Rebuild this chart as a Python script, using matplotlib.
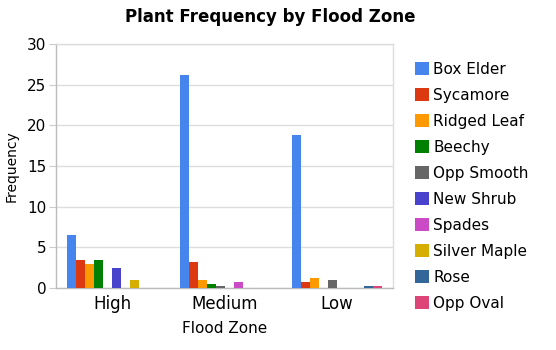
import numpy as np
import matplotlib.pyplot as plt
from matplotlib.patches import Patch

# Data
zones = ['High', 'Medium', 'Low']
species = ['Box Elder', 'Sycamore', 'Ridged Leaf', 'Beechy', 'Opp Smooth',
           'New Shrub', 'Spades', 'Silver Maple', 'Rose', 'Opp Oval']
box_elder = [6.5, 26.2, 18.8]
sycamore = [3.5, 3.2, 0.7]
ridged_leaf = [3.0, 1.0, 1.2]
beechy = [3.5, 0.5, 0.0]
opp_smooth = [0.0, 0.2, 1.0]
new_shrub = [2.5, 0.0, 0.0]
spades = [0.0, 0.7, 0.0]
silver_maple = [1.0, 0.0, 0.0]
rose = [0.0, 0.0, 0.2]
opp_oval = [0.0, 0.0, 0.2]
series = [box_elder, sycamore, ridged_leaf, beechy, opp_smooth,
          new_shrub, spades, silver_maple, rose, opp_oval]
colors = ['#4684EE', '#DC3912', '#FF9900', '#008000', '#666666',
          '#4942CC', '#CB4AC5', '#D6AE00', '#336699', '#DD4477']

fig = plt.figure(figsize=(5.56, 3.5), dpi=100)
ax = fig.add_axes([0.1007, 0.177, 0.6065, 0.697])

x = np.arange(len(zones))
w = 0.08
n = len(series)
for i, (vals, c) in enumerate(zip(series, colors)):
    ax.bar(x + (i - (n - 1) / 2) * w, vals, width=w, color=c, zorder=3)

ax.set_xlim(-0.5, 2.5)
ax.set_ylim(0, 30)
ax.set_yticks(range(0, 31, 5))
ax.set_xticks(x)
ax.set_xticklabels(zones)
ax.grid(axis='y', color='#dddddd', linewidth=1, zorder=0)
for s in ax.spines.values():
    s.set_color('#dddddd')
    s.set_linewidth(1)
ax.spines['left'].set_color('#bbbbbb')
ax.spines['bottom'].set_color('#bbbbbb')
ax.tick_params(axis='y', length=5, color='#cccccc', labelsize=11, pad=2)
ax.tick_params(axis='x', length=0, labelsize=12, pad=5)
ax.set_xlabel('Flood Zone', fontsize=11, labelpad=6)
ax.set_ylabel('Frequency', fontsize=10, labelpad=6)

fig.text(0.486, 0.95, 'Plant Frequency by Flood Zone', ha='center', va='center',
         fontsize=12, fontweight='bold')

handles = [Patch(facecolor=c, label=s) for s, c in zip(species, colors)]
fig.legend(handles=handles, loc='upper left', bbox_to_anchor=(0.736, 0.84),
           frameon=False, fontsize=11, handlelength=0.92, handleheight=0.92,
           handletextpad=0.25, labelspacing=0.72, borderaxespad=0)

fig.savefig('out.png', dpi=100)
